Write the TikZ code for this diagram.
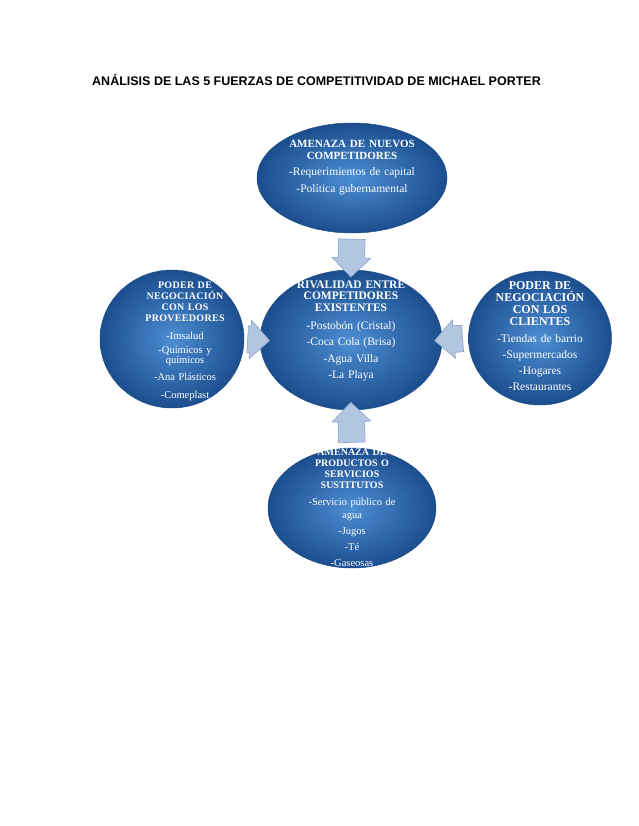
\documentclass[tikz,border=0pt]{standalone}
\usepackage{fontspec}
\setmainfont{Liberation Serif}
\newfontfamily\titulofont{Liberation Sans}
\usetikzlibrary{shapes.geometric,shapes.arrows}

\definecolor{azulclaro}{RGB}{76,142,210}
\definecolor{azuloscuro}{RGB}{28,78,142}
\definecolor{flechafondo}{RGB}{178,198,226}
\definecolor{flechaborde}{RGB}{136,162,200}
\newcommand{\enc}[1]{{\bfseries #1}}
\newcommand{\encesp}[1]{{\bfseries\addfontfeature{LetterSpace=3}#1}}

\tikzset{
    titulo/.style={anchor=base west, inner sep=0pt, font=\titulofont\bfseries\fontsize{12.5}{14}\selectfont},
    fuerza/.style={ellipse, inner sep=0pt, draw=azuloscuro, line width=0.5pt,
        inner color=azulclaro, outer color=azuloscuro},
    textofuerza/.style={inner sep=0pt, align=center, text=white},
    flecha/.style={single arrow, draw=flechaborde, fill=flechafondo, line width=0.6pt,
        inner xsep=0pt, inner ysep=13pt, single arrow head extend=6pt,
        midway, sloped, allow upside down}
}

\begin{document}
\begin{tikzpicture}[x=1pt,y=-1pt]
    \useasboundingbox (0,0) rectangle (638,826);

    \node[titulo] (titulo) at (92,86) {ANÁLISIS DE LAS 5 FUERZAS DE COMPETITIVIDAD DE MICHAEL PORTER};

    \node[fuerza, minimum width=190pt, minimum height=110pt] (nuevos) at (352,178) {};
    \node[fuerza, minimum width=182pt, minimum height=140pt] (rival) at (351,340) {};
    \node[fuerza, minimum width=144pt, minimum height=138pt] (proveedores) at (172,339) {};
    \node[fuerza, minimum width=143pt, minimum height=134pt] (clientes) at (540,338) {};
    \node[fuerza, minimum width=168pt, minimum height=120pt] (sustitutos) at (352,508) {};

    \node[textofuerza, text width=170pt, font=\fontsize{11.5}{12}\selectfont] (nuevos-texto) at ([yshift=10pt]nuevos.center)
        {{\fontsize{11}{12}\selectfont\enc{AMENAZA DE NUEVOS}\\\enc{COMPETIDORES}}\\[4pt]-Requerimientos de capital\\[5pt]-Política gubernamental};
    \node[textofuerza, text width=150pt, font=\fontsize{11.5}{11.5}\selectfont] (rival-texto) at ([yshift=9pt]rival.center)
        {\enc{RIVALIDAD ENTRE}\\\enc{COMPETIDORES}\\\enc{EXISTENTES}\\[6.5pt]-Postobón (Cristal)\\[5pt]-Coca Cola (Brisa)\\[5pt]-Agua Villa\\[5pt]-La Playa};
    \node[textofuerza, text width=120pt, font=\fontsize{10.5}{11}\selectfont] (proveedores-texto) at ([xshift=13pt,yshift=-2pt]proveedores.center)
        {{\fontsize{10}{11}\selectfont\encesp{PODER DE}\\\encesp{NEGOCIACIÓN}\\\encesp{CON LOS}\\\encesp{PROVEEDORES}}\\[7pt]-Imsalud\\[3pt]-Químicos y\\[-1pt]químicos\\[6pt]-Ana Plásticos\\[7pt]-Comeplast};
    \node[textofuerza, text width=130pt, font=\fontsize{11.5}{12}\selectfont] (clientes-texto) at ([yshift=2pt]clientes.center)
        {{\fontsize{12}{12}\selectfont\enc{PODER DE}\\\enc{NEGOCIACIÓN}\\\enc{CON LOS}\\\enc{CLIENTES}}\\[5pt]-Tiendas de barrio\\[4pt]-Supermercados\\[4pt]-Hogares\\[4pt]-Restaurantes};
    \node[textofuerza, text width=140pt, font=\fontsize{10.5}{11}\selectfont] (sustitutos-texto) at (sustitutos.center)
        {{\fontsize{10}{11}\selectfont\enc{AMENAZA DE}\\\enc{PRODUCTOS O}\\\enc{SERVICIOS}\\\enc{SUSTITUTOS}}\\[6pt]-Servicio público de\\[2pt]agua\\[5pt]-Jugos\\[5pt]-Té\\[5pt]-Gaseosas};

    \path (nuevos.south) -- (rival.north) node[flecha, minimum height=38pt] {};
    \path (proveedores.east) -- (rival.west) node[flecha, minimum height=22pt] {};
    \path (clientes.west) -- (rival.east) node[flecha, minimum height=28pt] {};
    \path (sustitutos.north) -- (rival.south) node[flecha, minimum height=40pt] {};
\end{tikzpicture}
\end{document}
